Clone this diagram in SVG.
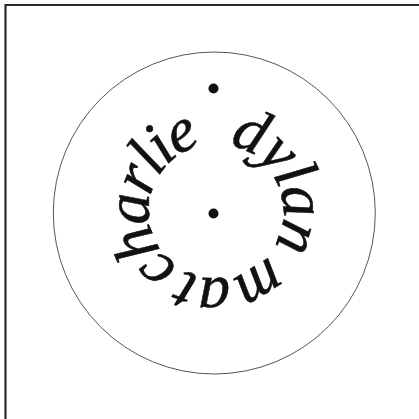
<svg xmlns="http://www.w3.org/2000/svg" width="419" height="419" viewBox="0 0 419 419">
<style>
.frame{fill:none;stroke:#2b2b2b;stroke-width:2.2}
.ring{fill:none;stroke:#555;stroke-width:1}
.dot{fill:#111}
.lbl{font-family:"Liberation Serif","Times New Roman",serif;font-style:italic;font-size:63px;fill:#111;stroke:#111;stroke-width:0.6}
.w1{letter-spacing:-3.5px}
.w2{letter-spacing:-2.5px}
.w3{letter-spacing:-1px}
</style>
<defs>
<path id="tp" d="M 179.02 266.87 A 67 67 0 1 1 252.98 155.13 A 67 67 0 1 1 179.02 266.87"/>
</defs>
<g id="frame"><path class="frame" d="M 5.5 419 L 5.5 5 L 419 5"/></g>
<g id="ring"><circle class="ring" cx="214.3" cy="213" r="161"/></g>
<g id="dot-top"><circle class="dot" cx="213.5" cy="88.5" r="5"/></g>
<g id="dot-center"><circle class="dot" cx="213.5" cy="213.5" r="5"/></g>
<g id="label"><text class="lbl"><textPath href="#tp"><tspan class="w1">charlie </tspan><tspan class="w2" dx="17.5">dylan </tspan><tspan class="w3" dx="-1.4">mat</tspan></textPath></text></g>
</svg>
